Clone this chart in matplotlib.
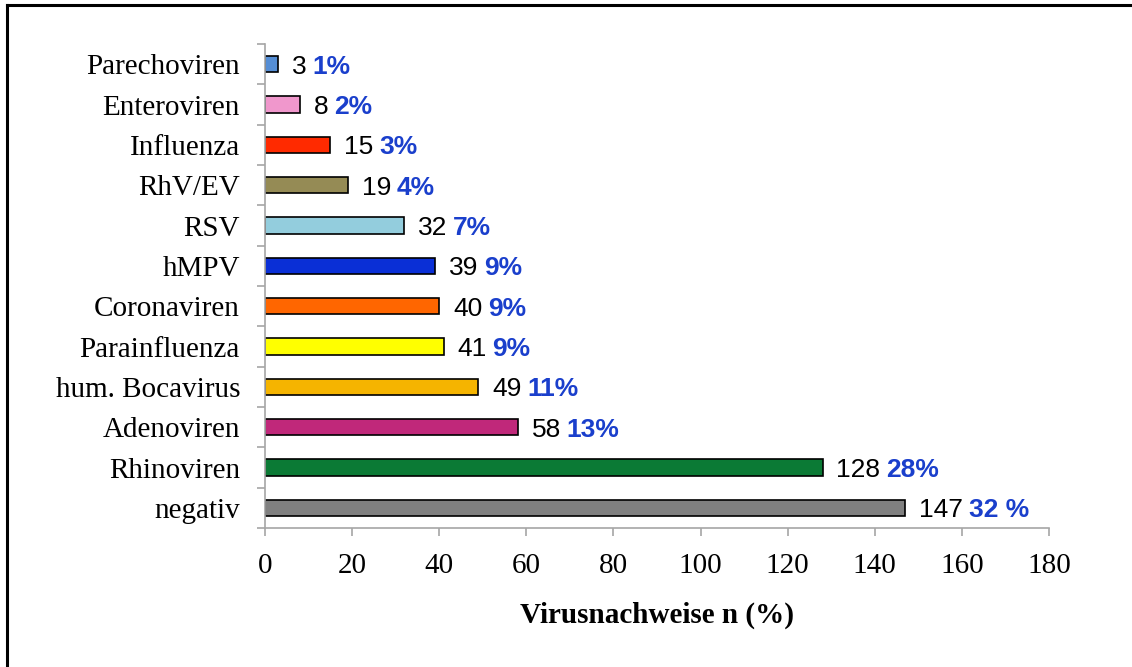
"""Virusnachweise: horizontales Balkendiagramm mit Anzahl und Anteil."""
import matplotlib
matplotlib.use("Agg")
import matplotlib.pyplot as plt
from matplotlib.lines import Line2D

# Daten (von oben nach unten)
categories = [
    "Parechoviren", "Enteroviren", "Influenza", "RhV/EV", "RSV", "hMPV",
    "Coronaviren", "Parainfluenza", "hum. Bocavirus", "Adenoviren",
    "Rhinoviren", "negativ",
]
counts = [3, 8, 15, 19, 32, 39, 40, 41, 49, 58, 128, 147]
percents = ["1%", "2%", "3%", "4%", "7%", "9%", "9%", "9%", "11%", "13%", "28%", "32 %"]
colors = [
    "#558ed5", "#f097cc", "#ff2a00", "#958b55", "#93cddd", "#0a2fd6",
    "#ff6600", "#ffff00", "#f5b400", "#c0287a", "#0b7a35", "#808080",
]
xticks = [0, 20, 40, 60, 80, 100, 120, 140, 160, 180]

SERIF = "Liberation Serif"
SANS = "Liberation Sans"
GRAY = "#a6a6a6"
BLUE = "#1a3fcc"

fig = plt.figure(figsize=(11.32, 6.67), dpi=100)
ax = fig.add_axes([0.2341, 0.2084, 0.6926, 0.7256])

n = len(categories)
ypos = list(range(n))
ax.barh(ypos, counts, height=0.4, color=colors, edgecolor="black", linewidth=1.2)
ax.set_ylim(n - 0.5, -0.5)
ax.set_xlim(0, 180)

# Werte + Prozent
for y, c, p in zip(ypos, counts, percents):
    t = ax.annotate(str(c), xy=(c, y), xytext=(10, 0), textcoords="offset points",
                    va="center_baseline", ha="left", fontsize=19, family=SANS,
                    color="black")
    ax.annotate(p, xy=(1, 0), xycoords=t, xytext=(4, 0), textcoords="offset points",
                va="bottom", ha="left", fontsize=19, family=SANS,
                fontweight="bold", color=BLUE)

# Achsen
ax.set_yticks(ypos)
ax.set_yticklabels(categories, family=SERIF, fontsize=21)
ax.set_yticks([i - 0.5 for i in range(n + 1)], minor=True)
ax.tick_params(axis="y", which="major", length=0, pad=18)
ax.tick_params(axis="y", which="minor", length=6, color=GRAY, width=1.2)
ax.set_xticks(xticks)
ax.set_xticklabels([str(v) for v in xticks], family=SERIF, fontsize=21)
ax.tick_params(axis="x", length=6, color=GRAY, width=1.2, pad=12)
for s in ("top", "right"):
    ax.spines[s].set_visible(False)
for s in ("left", "bottom"):
    ax.spines[s].set_color(GRAY)
    ax.spines[s].set_linewidth(1.2)

ax.set_xlabel("Virusnachweise n (%)", family=SERIF, fontsize=21,
              fontweight="bold", labelpad=16)

# Rahmen oben/links
fig.add_artist(Line2D([7 / 1132, 1], [1 - 5 / 667, 1 - 5 / 667], color="black",
                      linewidth=2.2, transform=fig.transFigure))
fig.add_artist(Line2D([7 / 1132, 7 / 1132], [0, 1 - 5 / 667], color="black",
                      linewidth=2.2, transform=fig.transFigure))

fig.savefig("out.png", dpi=100)
